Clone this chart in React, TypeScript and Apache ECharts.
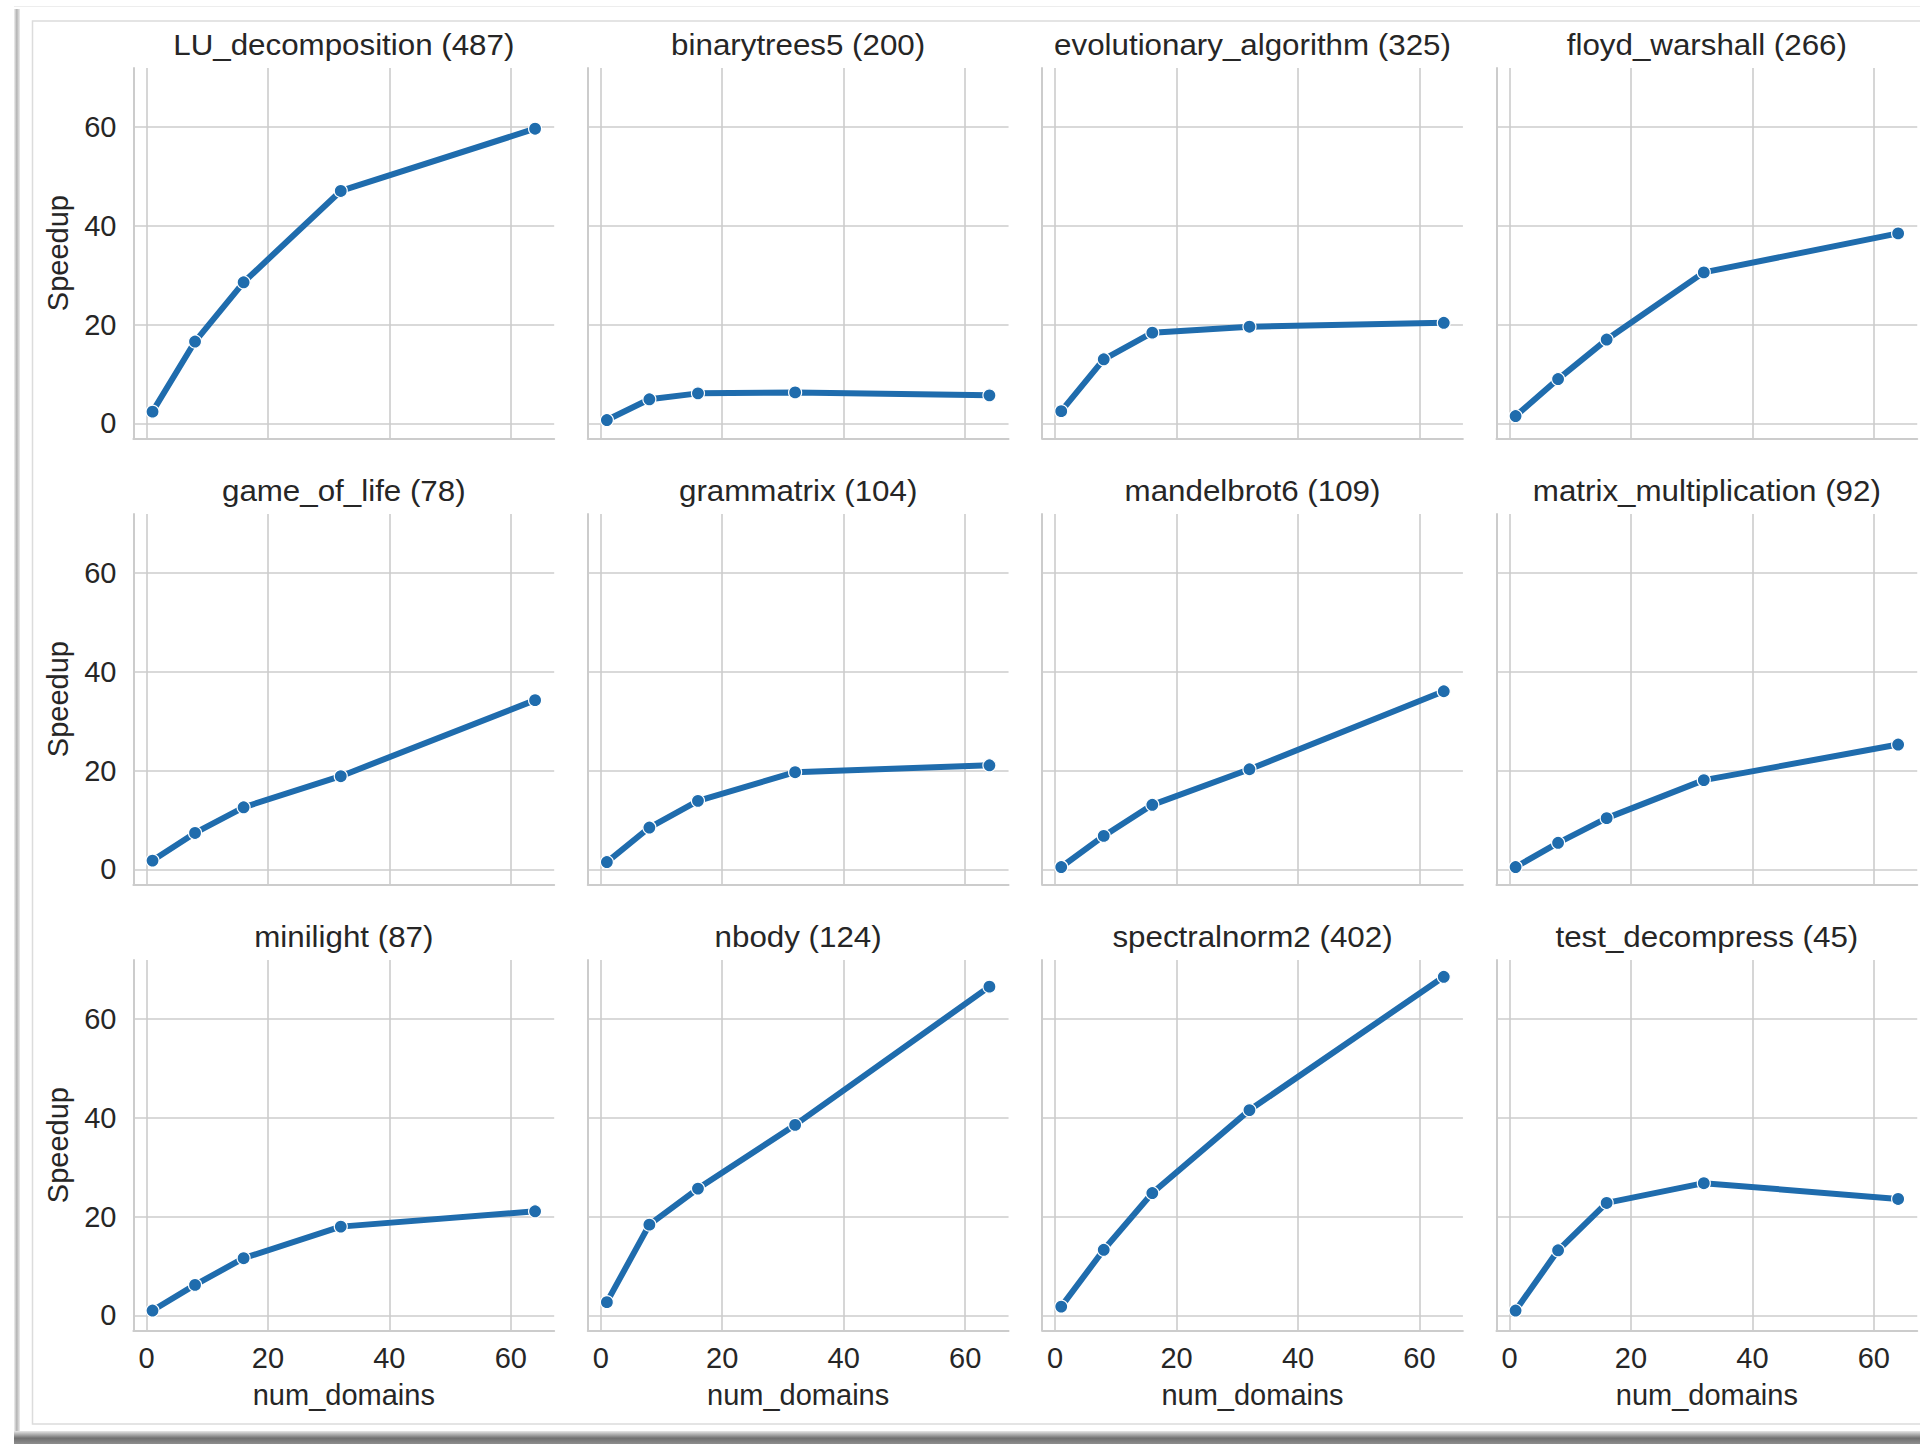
import React, { useEffect, useRef } from "react";
import * as echarts from "echarts";

// ---------- data ----------
const domains = [1, 8, 16, 32, 64];
const benchmarks = [
  "LU_decomposition",
  "binarytrees5",
  "evolutionary_algorithm",
  "floyd_warshall",
  "game_of_life",
  "grammatrix",
  "mandelbrot6",
  "matrix_multiplication",
  "minilight",
  "nbody",
  "spectralnorm2",
  "test_decompress",
];
const runCounts = [487, 200, 325, 266, 78, 104, 109, 92, 87, 124, 402, 45];

const luDecomposition = [2.4, 16.6, 28.6, 47.1, 59.7];
const binarytrees5 = [0.7, 4.9, 6.1, 6.3, 5.7];
const evolutionaryAlgorithm = [2.5, 13.0, 18.4, 19.6, 20.4];
const floydWarshall = [1.5, 9.0, 17.0, 30.6, 38.5];
const gameOfLife = [1.8, 7.4, 12.6, 18.9, 34.3];
const grammatrix = [1.5, 8.5, 13.9, 19.7, 21.1];
const mandelbrot6 = [0.5, 6.8, 13.1, 20.3, 36.1];
const matrixMultiplication = [0.5, 5.4, 10.4, 18.1, 25.3];
const minilight = [1.0, 6.2, 11.6, 18.0, 21.1];
const nbody = [2.7, 18.4, 25.7, 38.6, 66.6];
const spectralnorm2 = [1.8, 13.3, 24.8, 41.6, 68.6];
const testDecompress = [1.0, 13.2, 22.8, 26.8, 23.6];

const speedups = [
  luDecomposition,
  binarytrees5,
  evolutionaryAlgorithm,
  floydWarshall,
  gameOfLife,
  grammatrix,
  mandelbrot6,
  matrixMultiplication,
  minilight,
  nbody,
  spectralnorm2,
  testDecompress,
];

const xRange = [-2.15, 67.15];
const yRange = [-3, 72];
const tickStep = 20;

// ---------- layout / style ----------
const W = 1920;
const H = 1444;
const COLS = 4;
const panelLeft0 = 133.4;
const colStep = 454.35;
const panelW = 420.8;
const panelTop0 = 68;
const rowStep = 446;
const panelH = 370.3;

const FONT = "'Liberation Sans', Arial, Helvetica, sans-serif";
const TEXT = "#262626";
const GRIDC = "#cccccc";
const LINEC = "#1f6cad";

const tickFmt = (v: number) =>
  Math.abs(v / tickStep - Math.round(v / tickStep)) < 1e-9 ? String(Math.round(v)) : "";

function buildOption() {
  const grids: any[] = [];
  const xAxes: any[] = [];
  const yAxes: any[] = [];
  const series: any[] = [];
  const graphics: any[] = [];

  // frame / shadow decoration
  graphics.push(
    {
      type: "line",
      shape: { x1: 14, y1: 6.5, x2: W, y2: 6.5 },
      style: { stroke: "#ededed", lineWidth: 1 },
      silent: true,
    },
    {
      type: "rect",
      shape: { x: 32.5, y: 21, width: W, height: 1403 },
      style: { fill: "none", stroke: "#dcdcdc", lineWidth: 1.5 },
      silent: true,
    },
    {
      type: "rect",
      shape: { x: 14, y: 9, width: 6, height: H - 9 },
      style: {
        fill: new echarts.graphic.LinearGradient(0, 0, 1, 0, [
          { offset: 0, color: "#f0f0f0" },
          { offset: 0.45, color: "#b4b4b4" },
          { offset: 1, color: "#ececec" },
        ]),
      },
      silent: true,
    },
    {
      type: "rect",
      shape: { x: 14, y: 1431, width: W - 14, height: 13 },
      style: {
        fill: new echarts.graphic.LinearGradient(0, 0, 0, 1, [
          { offset: 0, color: "#e6e6e6" },
          { offset: 0.55, color: "#707070" },
          { offset: 1, color: "#8e8e8e" },
        ]),
      },
      silent: true,
    }
  );

  benchmarks.forEach((name, i) => {
    const col = i % COLS;
    const row = Math.floor(i / COLS);
    const left = panelLeft0 + col * colStep;
    const top = panelTop0 + row * rowStep;
    const isBottom = row === 2;
    const isLeft = col === 0;

    grids.push({ left, top, width: panelW, height: panelH, containLabel: false });

    xAxes.push({
      gridIndex: i,
      type: "value",
      min: xRange[0],
      max: xRange[1],
      minInterval: tickStep,
      maxInterval: tickStep,
      splitNumber: 3,
      axisLine: { show: true, onZero: false, lineStyle: { color: GRIDC, width: 2 } },
      axisTick: { show: false },
      axisLabel: {
        show: isBottom,
        margin: 13,
        fontSize: 29,
        fontFamily: FONT,
        color: TEXT,
        showMinLabel: false,
        showMaxLabel: false,
        formatter: tickFmt,
      },
      splitLine: {
        show: true,
        showMinLine: false,
        showMaxLine: false,
        lineStyle: { color: GRIDC, width: 1.6 },
      },
      name: isBottom ? "num_domains" : "",
      nameLocation: "middle",
      nameGap: 50,
      nameTextStyle: { fontSize: 29, fontFamily: FONT, color: TEXT },
    });

    yAxes.push({
      gridIndex: i,
      type: "value",
      min: yRange[0],
      max: yRange[1],
      minInterval: tickStep,
      maxInterval: tickStep,
      splitNumber: 4,
      axisLine: { show: true, onZero: false, lineStyle: { color: GRIDC, width: 2 } },
      axisTick: { show: false },
      axisLabel: {
        show: isLeft,
        margin: 17,
        fontSize: 29,
        fontFamily: FONT,
        color: TEXT,
        showMinLabel: false,
        showMaxLabel: false,
        formatter: tickFmt,
      },
      splitLine: {
        show: true,
        showMinLine: false,
        showMaxLine: false,
        lineStyle: { color: GRIDC, width: 1.6 },
      },
      name: isLeft ? "Speedup" : "",
      nameLocation: "middle",
      nameGap: 61,
      nameTextStyle: { fontSize: 29, fontFamily: FONT, color: TEXT },
    });

    series.push({
      type: "line",
      xAxisIndex: i,
      yAxisIndex: i,
      data: domains.map((d, k) => [d, speedups[i][k]]),
      symbol: "circle",
      symbolSize: 13,
      showSymbol: true,
      itemStyle: { color: LINEC, borderColor: "#ffffff", borderWidth: 1.2 },
      lineStyle: { color: LINEC, width: 6 },
      emphasis: { disabled: true },
      clip: false,
      z: 3,
    });

    graphics.push({
      type: "text",
      x: left + panelW / 2,
      y: top - 23,
      scaleX: 1.08,
      style: {
        text: `${name} (${runCounts[i]})`,
        align: "center",
        verticalAlign: "middle",
        fontSize: 29,
        fontFamily: FONT,
        fill: TEXT,
      },
      silent: true,
    });
  });

  return {
    animation: false,
    backgroundColor: "#ffffff",
    grid: grids,
    xAxis: xAxes,
    yAxis: yAxes,
    series,
    graphic: { elements: graphics },
  };
}

export default function App() {
  const ref = useRef<HTMLDivElement>(null);
  useEffect(() => {
    document.body.style.margin = "0";
    if (!ref.current) return;
    const chart = echarts.init(ref.current, undefined, { renderer: "svg", width: W, height: H });
    chart.setOption(buildOption() as any);
    return () => chart.dispose();
  }, []);
  return (
    <div
      ref={ref}
      style={{ position: "absolute", left: 0, top: 0, width: W, height: H, background: "#fff" }}
    />
  );
}
